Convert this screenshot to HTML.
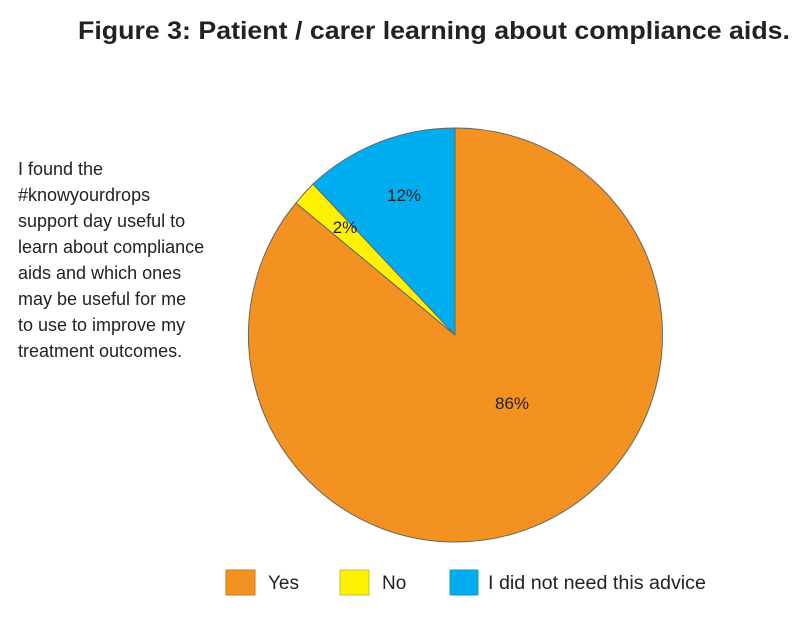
<!DOCTYPE html>
<html><head><style>
body{margin:0;background:#fff;width:800px;height:614px;overflow:hidden;font-family:"Liberation Sans",sans-serif;}
</style></head><body>
<svg width="800" height="614" xmlns="http://www.w3.org/2000/svg" font-family="Liberation Sans, sans-serif">
<text x="434" y="39" text-anchor="middle" font-size="25" font-weight="bold" fill="#222" textLength="712" lengthAdjust="spacingAndGlyphs">Figure 3: Patient / carer learning about compliance aids.</text>
<g font-size="18" fill="#222">
<text x="18" y="175">I found the</text>
<text x="18" y="201">#knowyourdrops</text>
<text x="18" y="227">support day useful to</text>
<text x="18" y="253">learn about compliance</text>
<text x="18" y="279">aids and which ones</text>
<text x="18" y="305">may be useful for me</text>
<text x="18" y="331">to use to improve my</text>
<text x="18" y="357">treatment outcomes.</text>
</g>
<g stroke="#666" stroke-width="1">
<path d="M455,335 L455,128 A207,207 0 1 1 296,203 Z" fill="#f39220"/>
<path d="M455,335 L296,203 A207,207 0 0 1 313,184 Z" fill="#fff200"/>
<path d="M455,335 L313,184 A207,207 0 0 1 455,128 Z" fill="#00aeef"/>
</g>
<g font-size="17" fill="#222" text-anchor="middle">
<text x="404" y="201">12%</text>
<text x="345" y="233">2%</text>
<text x="512" y="409">86%</text>
</g>
<rect x="226" y="570" width="29" height="25" fill="#f39220" stroke="#c87a20"/>
<rect x="340" y="570" width="29" height="25" fill="#fff200" stroke="#c8c040"/>
<rect x="450" y="570" width="28" height="25" fill="#00aeef" stroke="#2090c0"/>
<g font-size="19" fill="#222">
<text x="268" y="589">Yes</text>
<text x="382" y="589">No</text>
<text x="488" y="589" textLength="218" lengthAdjust="spacingAndGlyphs">I did not need this advice</text>
</g>
</svg>
</body></html>
